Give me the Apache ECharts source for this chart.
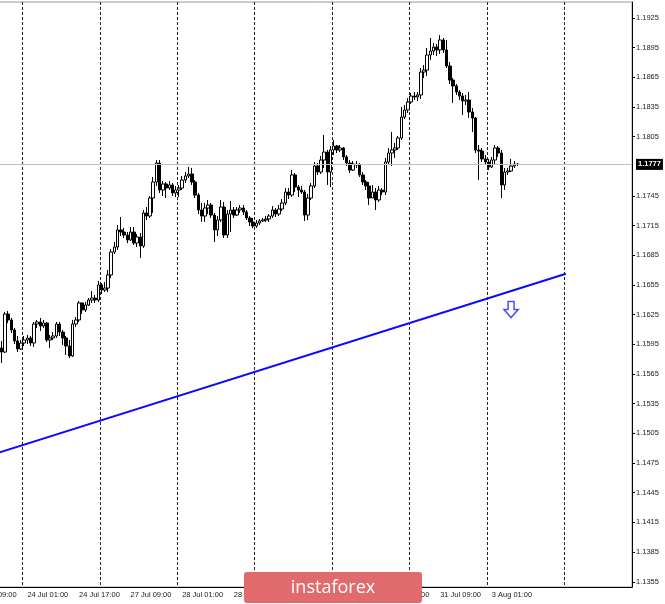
<!DOCTYPE html>
<html>
<head>
<meta charset="utf-8">
<script src="https://cdn.jsdelivr.net/npm/echarts@6/dist/echarts.min.js"></script>
<style>
  html, body { margin: 0; padding: 0; background: #fff; }
  #chart { width: 665px; height: 604px; }
</style>
</head>
<body>
<div id="chart"></div>
<script>
// EURUSD H1, 23 Jul 17:00 .. 3 Aug 09:00
var dayNames = ['23 Jul', '24 Jul', '27 Jul', '28 Jul', '29 Jul', '30 Jul', '31 Jul', '3 Aug', '4 Aug'];
var firstHour = 9;   // axis starts at 23 Jul 09:00
var lastHour = 20;   // axis ends at 4 Aug 20:00
var firstBar = '23 Jul 17:00';

var xTickLabels = ['23 Jul 09:00', '24 Jul 01:00', '24 Jul 17:00', '27 Jul 09:00', '28 Jul 01:00',
    '28 Jul 17:00', '29 Jul 09:00', '30 Jul 01:00', '30 Jul 17:00', '31 Jul 09:00', '3 Aug 01:00'];
var yTicks = [1.1355, 1.1385, 1.1415, 1.1445, 1.1475, 1.1505, 1.1535, 1.1565, 1.1595, 1.1625,
    1.1655, 1.1685, 1.1715, 1.1745, 1.1805, 1.1835, 1.1865, 1.1895, 1.1925];

var opens = [
1.15914,1.15873,1.16257,1.16197,1.16096,1.15985,1.15904,1.15964,1.15995,1.16015,
1.15964,1.16156,1.16177,1.16136,1.16166,1.15995,1.16015,1.16035,1.16156,1.16075,
1.16015,1.15934,1.15833,1.16156,1.16197,1.16369,1.16298,1.16348,1.16399,1.16419,
1.16399,1.16551,1.16500,1.16520,1.16652,1.16884,1.16935,1.17107,1.17086,1.17056,
1.17006,1.17086,1.16975,1.17036,1.16945,1.17279,1.17248,1.17430,1.17592,1.17784,
1.17511,1.17572,1.17531,1.17562,1.17481,1.17511,1.17531,1.17612,1.17653,1.17673,
1.17592,1.17460,1.17309,1.17248,1.17329,1.17359,1.17258,1.17107,1.17208,1.17339,
1.17056,1.17268,1.17309,1.17258,1.17309,1.17329,1.17289,1.17228,1.17188,1.17147,
1.17177,1.17198,1.17208,1.17218,1.17248,1.17309,1.17268,1.17319,1.17380,1.17491,
1.17460,1.17663,1.17541,1.17511,1.17491,1.17258,1.17430,1.17552,1.17754,1.17693,
1.17814,1.17895,1.17693,1.17916,1.17956,1.17916,1.17936,1.17845,1.17784,1.17713,
1.17774,1.17764,1.17663,1.17592,1.17552,1.17430,1.17491,1.17410,1.17511,1.17491,
1.17794,1.17885,1.17916,1.17936,1.18037,1.18249,1.18320,1.18401,1.18461,1.18451,
1.18472,1.18704,1.18724,1.18876,1.18916,1.18957,1.18927,1.19028,1.18927,1.18765,
1.18623,1.18563,1.18502,1.18461,1.18411,1.18421,1.18300,1.18239,1.17916,1.17905,
1.17825,1.17794,1.17744,1.17814,1.17936,1.17885,1.17562,1.17693,1.17703,1.17754,
1.17774];
var closes = [
1.15873,1.16257,1.16197,1.16096,1.15985,1.15904,1.15964,1.15995,1.16015,1.15964,
1.16156,1.16177,1.16136,1.16166,1.15995,1.16015,1.16035,1.16156,1.16075,1.16015,
1.15934,1.15833,1.16156,1.16197,1.16369,1.16298,1.16348,1.16399,1.16419,1.16399,
1.16551,1.16500,1.16520,1.16652,1.16884,1.16935,1.17107,1.17086,1.17056,1.17006,
1.17086,1.16975,1.17036,1.16945,1.17279,1.17248,1.17430,1.17592,1.17784,1.17511,
1.17572,1.17531,1.17562,1.17481,1.17511,1.17531,1.17612,1.17653,1.17673,1.17592,
1.17460,1.17309,1.17248,1.17329,1.17359,1.17258,1.17107,1.17208,1.17339,1.17056,
1.17268,1.17309,1.17258,1.17309,1.17329,1.17289,1.17228,1.17188,1.17147,1.17177,
1.17198,1.17208,1.17218,1.17248,1.17309,1.17268,1.17319,1.17380,1.17491,1.17460,
1.17663,1.17541,1.17511,1.17491,1.17258,1.17430,1.17552,1.17754,1.17693,1.17814,
1.17895,1.17693,1.17916,1.17956,1.17916,1.17936,1.17845,1.17784,1.17713,1.17774,
1.17764,1.17663,1.17592,1.17552,1.17430,1.17491,1.17410,1.17511,1.17491,1.17794,
1.17885,1.17916,1.17936,1.18037,1.18249,1.18320,1.18401,1.18461,1.18451,1.18472,
1.18704,1.18724,1.18876,1.18916,1.18957,1.18927,1.19028,1.18927,1.18765,1.18623,
1.18563,1.18502,1.18461,1.18411,1.18421,1.18300,1.18239,1.17916,1.17905,1.17825,
1.17794,1.17744,1.17814,1.17936,1.17885,1.17562,1.17693,1.17703,1.17754,1.17774,
1.17770];
var lows = [
1.15762,1.15863,1.16166,1.16065,1.15954,1.15873,1.15894,1.15934,1.15954,1.15934,
1.15924,1.16116,1.16086,1.16116,1.15974,1.15914,1.15995,1.16015,1.16035,1.15944,
1.15843,1.15813,1.15823,1.16126,1.16177,1.16257,1.16278,1.16338,1.16369,1.16369,
1.16379,1.16459,1.16480,1.16480,1.16621,1.16864,1.16905,1.17046,1.17026,1.16975,
1.16995,1.16955,1.16935,1.16824,1.16925,1.17208,1.17228,1.17279,1.17552,1.17481,
1.17450,1.17430,1.17511,1.17450,1.17440,1.17440,1.17511,1.17582,1.17632,1.17562,
1.17430,1.17268,1.17188,1.17188,1.17268,1.17228,1.16985,1.17046,1.17188,1.17026,
1.17026,1.17086,1.17228,1.17248,1.17279,1.17258,1.17208,1.17147,1.17127,1.17127,
1.17157,1.17188,1.17188,1.17188,1.17228,1.17238,1.17248,1.17299,1.17359,1.17420,
1.17440,1.17491,1.17440,1.17471,1.17198,1.17208,1.17410,1.17531,1.17663,1.17673,
1.17734,1.17562,1.17541,1.17865,1.17885,1.17895,1.17814,1.17754,1.17683,1.17703,
1.17734,1.17643,1.17562,1.17511,1.17359,1.17430,1.17309,1.17390,1.17460,1.17460,
1.17764,1.17754,1.17835,1.17916,1.18017,1.18229,1.18290,1.18381,1.18421,1.18411,
1.18431,1.18643,1.18664,1.18825,1.18876,1.18866,1.18886,1.18896,1.18744,1.18583,
1.18391,1.18472,1.18421,1.18269,1.18370,1.18239,1.18097,1.17885,1.17612,1.17794,
1.17764,1.17713,1.17734,1.17764,1.17845,1.17430,1.17511,1.17663,1.17693,1.17734,
1.17754];
var highs = [
1.15985,1.16278,1.16288,1.16217,1.16116,1.16035,1.15995,1.16035,1.16045,1.16035,
1.16177,1.16197,1.16217,1.16197,1.16177,1.16045,1.16075,1.16177,1.16177,1.16096,
1.16035,1.15995,1.16197,1.16227,1.16389,1.16348,1.16379,1.16419,1.16490,1.16449,
1.16591,1.16571,1.16581,1.16702,1.16915,1.16985,1.17157,1.17238,1.17127,1.17086,
1.17137,1.17137,1.17066,1.17076,1.17309,1.17339,1.17450,1.17643,1.17814,1.17814,
1.17602,1.17592,1.17602,1.17582,1.17552,1.17562,1.17653,1.17693,1.17744,1.17734,
1.17612,1.17481,1.17380,1.17380,1.17410,1.17380,1.17279,1.17248,1.17410,1.17390,
1.17309,1.17400,1.17339,1.17339,1.17359,1.17359,1.17309,1.17248,1.17228,1.17208,
1.17218,1.17228,1.17248,1.17268,1.17349,1.17329,1.17359,1.17420,1.17531,1.17531,
1.17713,1.17683,1.17562,1.17552,1.17511,1.17471,1.17582,1.17794,1.17784,1.17855,
1.18067,1.17916,1.17956,1.18017,1.17966,1.17966,1.17946,1.17865,1.17814,1.17804,
1.17804,1.17784,1.17693,1.17612,1.17592,1.17562,1.17531,1.17552,1.17531,1.17835,
1.17936,1.18097,1.17986,1.18057,1.18350,1.18370,1.18441,1.18492,1.18502,1.18502,
1.18744,1.18775,1.18947,1.19048,1.18997,1.18987,1.19078,1.19048,1.19028,1.18805,
1.18643,1.18583,1.18522,1.18492,1.18472,1.18502,1.18340,1.18249,1.17966,1.17936,
1.17865,1.17825,1.17845,1.17966,1.17956,1.17916,1.17734,1.17734,1.17825,1.17804,
1.17784];

var lastPrice = 1.1777;
// trend line anchors (time, price)
var trendTimes = ['23 Jul 09:00', '4 Aug 00:00'];
var trendPrices = [1.14783, 1.16664];
// sell arrow
var arrowTime = '3 Aug 07:00';
var arrowPrice = 1.16303;

// hourly category labels, weekends skipped
function hh(h) { return (h < 10 ? '0' : '') + h + ':00'; }
var categories = [];
dayNames.forEach(function (d, di) {
    var h0 = di === 0 ? firstHour : 0;
    var h1 = di === dayNames.length - 1 ? lastHour : 23;
    for (var h = h0; h <= h1; h++) categories.push(d + ' ' + hh(h));
});
var start = categories.indexOf(firstBar);
var candles = closes.map(function (c, i) {
    return [categories[start + i], opens[i], c, lows[i], highs[i]];
});

var chart = echarts.init(document.getElementById('chart'));
var labelFont = 'Liberation Sans, Arial, sans-serif';
var option = {
    animation: false,
    backgroundColor: '#fff',
    grid: {
        left: -25.8, right: 33, top: 2, bottom: 17,
        show: true, borderColor: '#9a9a9a', borderWidth: 1, backgroundColor: '#fff',
        containLabel: false, outerBoundsMode: 'none'
    },
    xAxis: {
        type: 'category',
        data: categories,
        boundaryGap: true,
        axisLine: { lineStyle: { color: '#000', width: 1 } },
        axisTick: { show: false },
        axisLabel: {
            interval: function (i, v) { return xTickLabels.indexOf(v) >= 0; },
            align: 'left', margin: 4,
            fontSize: 7.5, color: '#222', fontFamily: labelFont
        },
        splitLine: {
            show: true,
            interval: function (i, v) { return / 00:00$/.test(v); },
            lineStyle: { color: '#222', width: 1, type: [3, 2] }
        }
    },
    yAxis: {
        type: 'value',
        position: 'right',
        min: 1.13497, max: 1.19412,
        axisLine: { show: true, lineStyle: { color: '#000', width: 1 } },
        axisTick: { show: true, length: 3, customValues: yTicks, lineStyle: { color: '#000' } },
        axisLabel: {
            customValues: yTicks, margin: 4,
            formatter: function (v) { return v.toFixed(4); },
            fontSize: 7.5, color: '#222', fontFamily: labelFont
        },
        splitLine: { show: false }
    },
    series: [
        {
            type: 'candlestick',
            name: 'EURUSD',
            data: candles,
            encode: { x: 0, y: [1, 2, 3, 4] },
            barWidth: 3,
            itemStyle: {
                color: '#fff', color0: '#000',
                borderColor: '#000', borderColor0: '#000', borderWidth: 1
            },
            emphasis: { disabled: true },
            z: 2
        },
        {
            type: 'line',
            name: 'trend',
            data: trendTimes.map(function (t, i) { return [t, trendPrices[i]]; }),
            symbol: 'none',
            silent: true,
            lineStyle: { color: '#0a0aff', width: 2 },
            z: 3,
            markLine: {
                silent: true,
                symbol: 'none',
                animation: false,
                precision: 5,
                lineStyle: { color: '#c0c0c0', width: 1, type: 'solid' },
                label: {
                    position: 'end', distance: 4,
                    formatter: lastPrice.toFixed(4),
                    color: '#fff', backgroundColor: '#000', padding: [2, 2, 1, 2],
                    fontSize: 7.5, fontWeight: 'bold', fontFamily: labelFont
                },
                data: [{ yAxis: lastPrice }]
            }
        },
        {
            type: 'scatter',
            name: 'sell',
            data: [[arrowTime, arrowPrice]],
            symbol: 'path://M4,0 L10,0 L10,8 L14,8 L7,16 L0,8 L4,8 Z',
            symbolSize: [14, 16],
            silent: true,
            itemStyle: { color: '#fff', borderColor: '#1e1eff', borderWidth: 1.6 },
            z: 4
        }
    ],
    graphic: [
        {
            type: 'rect', z: 100,
            shape: { x: 244, y: 572, width: 178, height: 31, r: 3 },
            style: { fill: '#e06a6c' }
        },
        {
            type: 'text', z: 101,
            x: 333, y: 588,
            style: {
                text: 'instaforex', fill: '#fff',
                font: '18px "Open Sans", sans-serif',
                align: 'center', verticalAlign: 'middle'
            }
        }
    ]
};
chart.setOption(option);
</script>
</body>
</html>
